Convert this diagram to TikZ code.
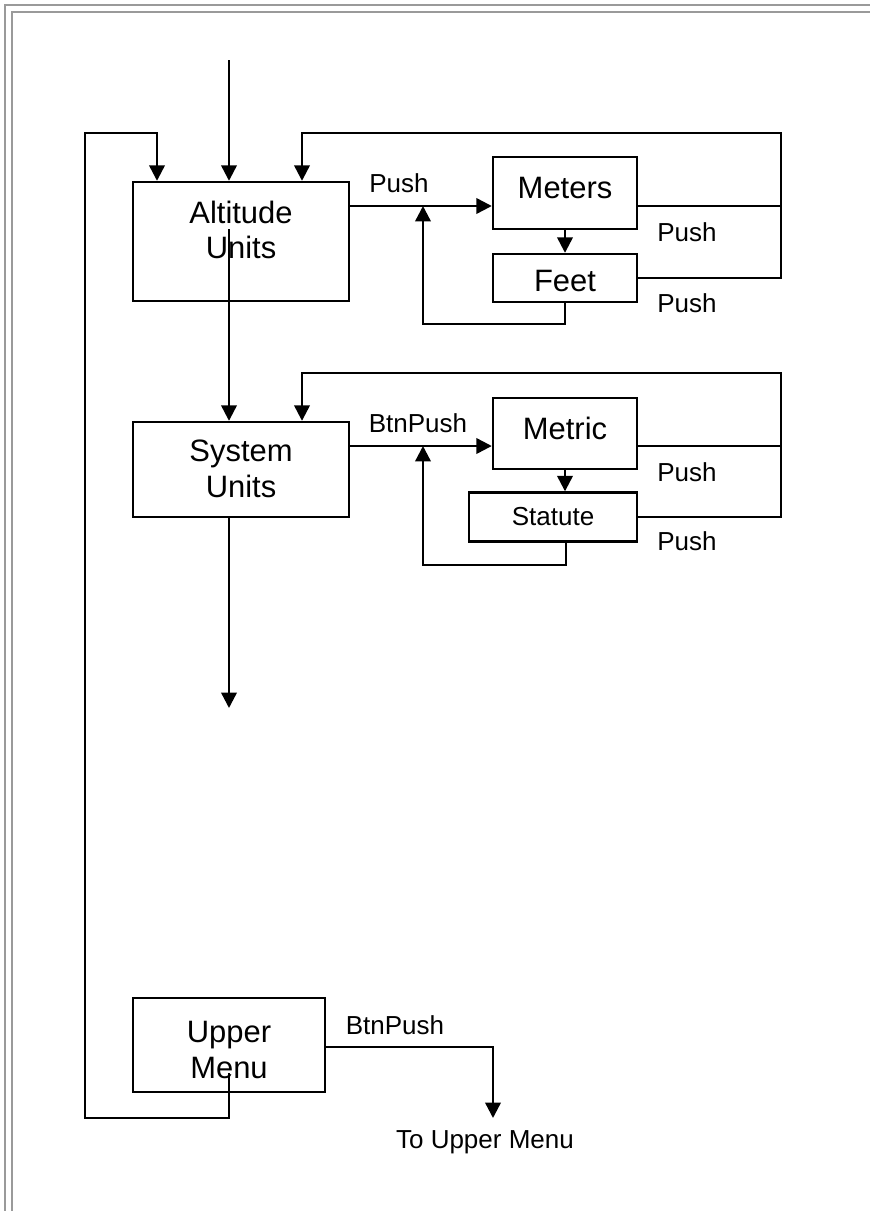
\documentclass[tikz,border=0pt]{standalone}
\usepackage{fontspec}
\setmainfont{Liberation Sans}
\usepackage{tikz}
\usetikzlibrary{positioning, arrows.meta}
\definecolor{framegray}{HTML}{9A9A9A}
\tikzset{
	statebox/.style={
			shape=rectangle,
			draw=black,
			line width=1.7pt,
			fill=white,
			inner sep=0pt
		},
	statetext/.style={
			font=\fontsize{22}{25.5}\selectfont,
			align=center,
			inner sep=0pt
		},
	smallstate/.style={
			font=\fontsize{18.5}{21}\selectfont,
			inner sep=0pt
		},
	edgelabel/.style={
			font=\fontsize{18.5}{21}\selectfont,
			inner sep=0pt
		}
}
\tikzset{
	flow/.style={line width=1.7pt, -{Triangle[length=11pt,width=11pt]}},
	wire/.style={line width=1.7pt},
	frameline/.style={draw=framegray, line width=2pt}
}

\begin{document}
\begin{tikzpicture}[x=0.025cm, y=-0.025cm]

  \useasboundingbox (0,0) rectangle (870,1211);
  \draw[frameline] (5,1211) -- (5,5) -- (870,5);
  \draw[frameline] (12,1211) -- (12,12) -- (870,12);

  \node[statebox, minimum width=5.4cm, minimum height=2.975cm] (alt) at (241,241.5) {};
  \node[statebox, minimum width=3.6cm, minimum height=1.8cm] (meters) at (565,193) {};
  \node[statebox, minimum width=3.6cm, minimum height=1.2cm] (feet) at (565,278) {};
  \node[statebox, minimum width=5.4cm, minimum height=2.375cm] (sys) at (241,469.5) {};
  \node[statebox, minimum width=3.6cm, minimum height=1.775cm] (metric) at (565,433.5) {};
  \node[statebox, minimum width=4.2cm, minimum height=1.225cm] (statute) at (553,517) {};
  \node[statebox, minimum width=4.8cm, minimum height=2.35cm] (upper) at (229,1045) {};

  \node[statetext] (altlabel) at (241,230) {Altitude\\Units};
  \node[statetext] (meterslabel) at (565,188) {Meters};
  \node[statetext] (feetlabel) at (565,281) {Feet};
  \node[statetext] (syslabel) at (241,469) {System\\Units};
  \node[statetext] (metriclabel) at (565,428) {Metric};
  \node[smallstate] (statutelabel) at (553,517) {Statute};
  \node[statetext] (upperlabel) at (229,1050) {Upper\\Menu};

  \coordinate (topin) at (229,60);
  \coordinate (altmid) at (229,229);
  \coordinate (sysout) at (229,708);
  \coordinate (umid) at (229,1073);
  \coordinate (loopbl) at (85,1118);
  \coordinate (looptl) at (85,133);
  \coordinate (loopin) at (157,133);
  \coordinate (rtop) at (781,133);
  \coordinate (altin) at (302,133);
  \coordinate (altout) at (349,206);
  \coordinate (metout) at (637,206);
  \coordinate (fbA) at (423,324);
  \coordinate (rtopB) at (781,373);
  \coordinate (sysin) at (302,373);
  \coordinate (sysright) at (349,446);
  \coordinate (mtrout) at (637,446);
  \coordinate (stout) at (566,542);
  \coordinate (fbB) at (423,565);
  \coordinate (upout) at (325,1047);
  \coordinate (toup) at (493,1118);

  \draw[flow] (topin) -- (topin |- alt.north);
  \draw[flow] (altmid) -- (altmid |- sys.north);
  \draw[flow] (sysout |- sys.south) -- (sysout);
  \draw[flow] (umid) -- (umid |- loopbl) -- (loopbl) -- (looptl) -- (loopin) -- (loopin |- alt.north);

  \draw[flow] (altout) -- (altout -| meters.west);
  \draw[flow] (meters.south) -- (feet.north);
  \draw[wire] (metout) -- (metout -| rtop);
  \draw[flow] (feet.east) -- (feet.east -| rtop) -- (rtop) -- (altin) -- (altin |- alt.north);
  \draw[flow] (feet.south) -- (feet.south |- fbA) -- (fbA) -- (fbA |- altout);

  \draw[flow] (sysright) -- (sysright -| metric.west);
  \draw[flow] (metric.south) -- (metric.south |- statute.north);
  \draw[wire] (mtrout) -- (mtrout -| rtopB);
  \draw[flow] (statute.east) -- (statute.east -| rtopB) -- (rtopB) -- (sysin) -- (sysin |- sys.north);
  \draw[flow] (stout) -- (stout |- fbB) -- (fbB) -- (fbB |- sysright);

  \draw[flow] (upout) -- (upout -| toup) -- (toup);

  \node[edgelabel] (pushA) at (399,183) {Push};
  \node[edgelabel] (pushB) at (687,232) {Push};
  \node[edgelabel] (pushC) at (687,303) {Push};
  \node[edgelabel] (btnA) at (418,423) {BtnPush};
  \node[edgelabel] (pushD) at (687,472) {Push};
  \node[edgelabel] (pushE) at (687,541) {Push};
  \node[edgelabel] (btnB) at (395,1025) {BtnPush};
  \node[edgelabel] (toupper) at (485,1142) {To Upper Menu};

\end{tikzpicture}
\end{document}
